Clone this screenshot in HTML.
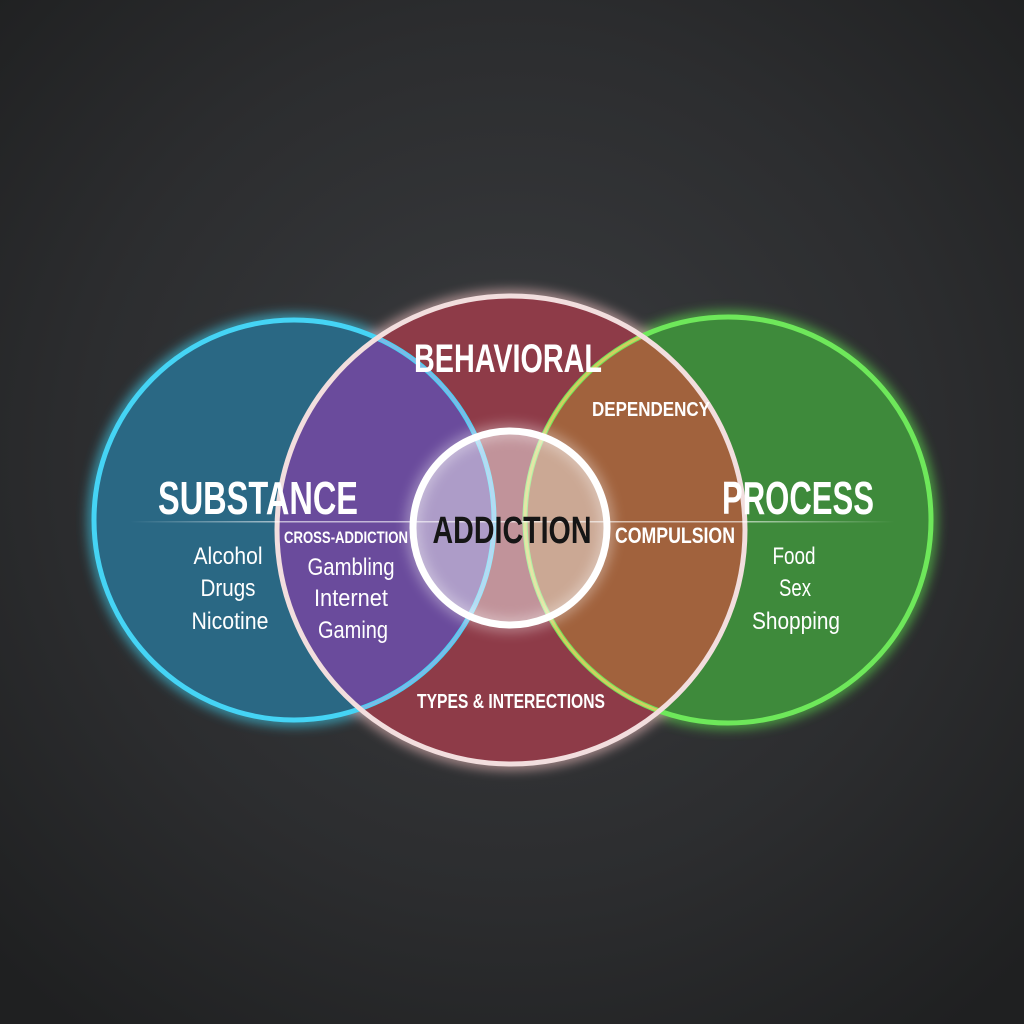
<!DOCTYPE html>
<html><head><meta charset="utf-8"><style>
html,body{margin:0;padding:0;width:1024px;height:1024px;overflow:hidden;background:#232425}
svg{display:block}
text{font-family:"Liberation Sans Narrow","Liberation Sans",sans-serif;font-weight:bold;fill:#fff;text-anchor:middle}
.n{font-weight:normal}
</style></head><body>
<svg width="1024" height="1024" viewBox="0 0 1024 1024">
<defs>
<radialGradient id="bg" cx="50%" cy="45%" r="70%">
<stop offset="0" stop-color="#3a3c3f"/><stop offset="0.6" stop-color="#2c2d2f"/><stop offset="1" stop-color="#1f2021"/>
</radialGradient>
<clipPath id="cr"><circle cx="511" cy="530" r="234"/></clipPath>
<filter id="gl" x="-20%" y="-20%" width="140%" height="140%"><feGaussianBlur stdDeviation="6"/></filter>
<linearGradient id="ln" x1="0" x2="1"><stop offset="0" stop-color="#fff" stop-opacity="0"/><stop offset="0.2" stop-color="#fff" stop-opacity="0.6"/><stop offset="0.8" stop-color="#fff" stop-opacity="0.6"/><stop offset="1" stop-color="#fff" stop-opacity="0"/></linearGradient>
</defs>
<rect width="1024" height="1024" fill="url(#bg)"/>
<g filter="url(#gl)" opacity="0.8">
<circle cx="294" cy="520" r="200" fill="none" stroke="#3fd0f0" stroke-width="10"/>
<circle cx="728" cy="520" r="203" fill="none" stroke="#5fe050" stroke-width="10"/>
<circle cx="511" cy="530" r="234" fill="none" stroke="#f0c0c0" stroke-width="10"/>
</g>
<circle cx="294" cy="520" r="200" fill="#2a6884"/>
<circle cx="728" cy="520" r="203" fill="#3e8a3b"/>
<circle cx="511" cy="530" r="234" fill="#8e3b48"/>
<g clip-path="url(#cr)">
<circle cx="294" cy="520" r="200" fill="#6a4b9c"/>
<circle cx="728" cy="520" r="203" fill="#a1623d"/>
</g>
<circle cx="294" cy="520" r="200" fill="none" stroke="#45d4f5" stroke-width="5"/>
<circle cx="728" cy="520" r="203" fill="none" stroke="#6ee85a" stroke-width="5"/>
<g clip-path="url(#cr)">
<circle cx="294" cy="520" r="200" fill="none" stroke="#a0a8e0" stroke-width="3" opacity="0.6"/>
<circle cx="728" cy="520" r="203" fill="none" stroke="#e8c860" stroke-width="3" opacity="0.8"/>
</g>
<circle cx="511" cy="530" r="234" fill="none" stroke="#f2dede" stroke-width="5"/>
<circle cx="510" cy="528" r="97" fill="#fff" fill-opacity="0.45"/>
<circle cx="510" cy="528" r="97" fill="none" stroke="#fff" stroke-width="14" opacity="0.35" filter="url(#gl)"/>
<circle cx="510" cy="528" r="97" fill="none" stroke="#fff" stroke-width="7"/>
<rect x="130" y="521" width="765" height="1.5" fill="url(#ln)"/>
<text x="508" y="372" font-size="40" textLength="188" lengthAdjust="spacingAndGlyphs">BEHAVIORAL</text>
<text x="651" y="416" font-size="20" textLength="118" lengthAdjust="spacingAndGlyphs">DEPENDENCY</text>
<text x="258" y="514" font-size="46" textLength="200" lengthAdjust="spacingAndGlyphs">SUBSTANCE</text>
<text x="798" y="514" font-size="46" textLength="152" lengthAdjust="spacingAndGlyphs">PROCESS</text>
<text x="346" y="543" font-size="17" textLength="124" lengthAdjust="spacingAndGlyphs">CROSS-ADDICTION</text>
<text x="512" y="543" font-size="38" textLength="159" lengthAdjust="spacingAndGlyphs" style="fill:#151515">ADDICTION</text>
<text x="675" y="543" font-size="22" textLength="120" lengthAdjust="spacingAndGlyphs">COMPULSION</text>
<text class="n" x="351" y="575" font-size="24" textLength="87" lengthAdjust="spacingAndGlyphs">Gambling</text>
<text class="n" x="351" y="606" font-size="24" textLength="74" lengthAdjust="spacingAndGlyphs">Internet</text>
<text class="n" x="353" y="638" font-size="24" textLength="70" lengthAdjust="spacingAndGlyphs">Gaming</text>
<text class="n" x="228" y="564" font-size="24" textLength="69" lengthAdjust="spacingAndGlyphs">Alcohol</text>
<text class="n" x="228" y="596" font-size="24" textLength="55" lengthAdjust="spacingAndGlyphs">Drugs</text>
<text class="n" x="230" y="629" font-size="24" textLength="77" lengthAdjust="spacingAndGlyphs">Nicotine</text>
<text class="n" x="794" y="564" font-size="24" textLength="43" lengthAdjust="spacingAndGlyphs">Food</text>
<text class="n" x="795" y="596" font-size="24" textLength="32" lengthAdjust="spacingAndGlyphs">Sex</text>
<text class="n" x="796" y="629" font-size="24" textLength="88" lengthAdjust="spacingAndGlyphs">Shopping</text>
<text x="511" y="708" font-size="20" textLength="188" lengthAdjust="spacingAndGlyphs">TYPES &amp; INTERECTIONS</text>
</svg>
</body></html>
